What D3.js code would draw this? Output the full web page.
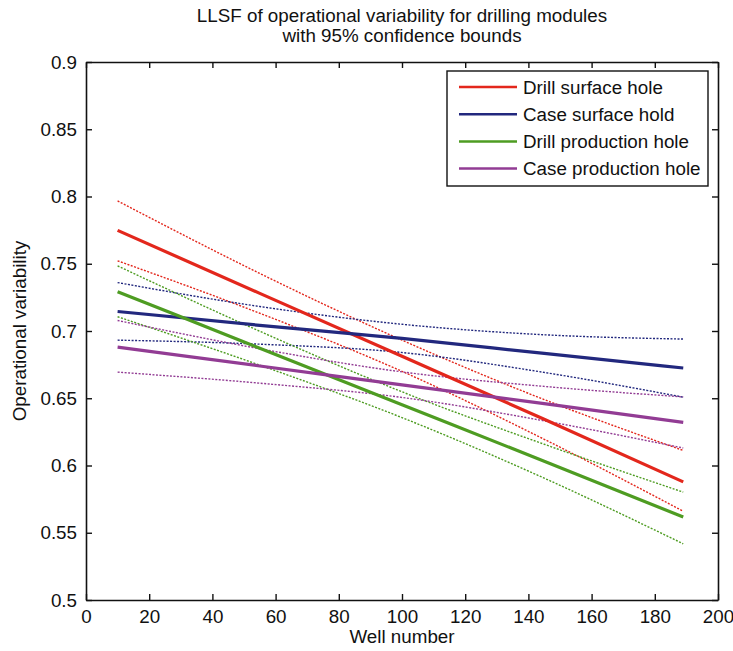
<!DOCTYPE html>
<meta charset="utf-8">
<style>
body { margin: 0; background: #fff; }
svg text { font-family: "Liberation Sans", Arial, sans-serif; fill: #111; }
.axis path, .axis line { stroke: #111; }
</style>
<svg width="733" height="651"></svg>
<script src="https://d3js.org/d3.v7.min.js"></script>
<script>
var wells = [10, 55, 100, 145, 189];

var drillSurface      = [0.7748, 0.7280, 0.6812, 0.6344, 0.5878],
    drillSurfaceUpper = [0.7967, 0.7428, 0.6932, 0.6490, 0.6112],
    drillSurfaceLower = [0.7522, 0.7132, 0.6700, 0.6195, 0.5660];

var caseSurface      = [0.7145, 0.7042, 0.6945, 0.6833, 0.6725],
    caseSurfaceUpper = [0.7360, 0.7182, 0.7050, 0.6972, 0.6940],
    caseSurfaceLower = [0.6932, 0.6902, 0.6840, 0.6692, 0.6508];

var drillProd      = [0.7292, 0.6872, 0.6452, 0.6032, 0.5617],
    drillProdUpper = [0.7484, 0.6998, 0.6548, 0.6158, 0.5802],
    drillProdLower = [0.7106, 0.6746, 0.6356, 0.5906, 0.5418];

var caseProd      = [0.6880, 0.6740, 0.6600, 0.6460, 0.6320],
    caseProdUpper = [0.7078, 0.6868, 0.6696, 0.6588, 0.6510],
    caseProdLower = [0.6694, 0.6612, 0.6506, 0.6332, 0.6130];

var legendLabels = ["Drill surface hole", "Case surface hold", "Drill production hole", "Case production hole"];
var colors = ["#e3271c", "#22287e", "#4e9c22", "#923c94"];

var xTicks = d3.range(0, 201, 20),
    yTicks = d3.range(0.5, 0.901, 0.05);

var series = [
  {fit: drillSurface, upper: drillSurfaceUpper, lower: drillSurfaceLower},
  {fit: caseSurface, upper: caseSurfaceUpper, lower: caseSurfaceLower},
  {fit: drillProd, upper: drillProdUpper, lower: drillProdLower},
  {fit: caseProd, upper: caseProdUpper, lower: caseProdLower}
];

var fontSize = "18.8px";

var svg = d3.select("svg"),
    margin = {top: 62, right: 15, bottom: 51, left: 86},
    width = +svg.attr("width") - margin.left - margin.right,
    height = +svg.attr("height") - margin.top - margin.bottom;

var x = d3.scaleLinear().domain([0, 200]).range([0, width]),
    y = d3.scaleLinear().domain([0.5, 0.9]).range([height, 0]);

var g = svg.append("g")
    .attr("transform", "translate(" + margin.left + "," + margin.top + ")");

// title
svg.append("text")
    .attr("x", margin.left + width / 2)
    .attr("y", 21.5)
    .attr("text-anchor", "middle")
    .style("font-size", fontSize)
    .text("LLSF of operational variability for drilling modules");
svg.append("text")
    .attr("x", margin.left + width / 2)
    .attr("y", 42)
    .attr("text-anchor", "middle")
    .style("font-size", fontSize)
    .text("with 95% confidence bounds");

// axes, matlab style: ticks inside, mirrored on top and right
g.append("g")
    .attr("class", "axis")
    .attr("transform", "translate(0," + height + ")")
    .call(d3.axisBottom(x).tickValues(xTicks).tickSize(-6).tickPadding(10).tickSizeOuter(0))
    .selectAll("text").style("font-size", fontSize);

g.append("g")
    .attr("class", "axis")
    .call(d3.axisLeft(y).tickValues(yTicks).tickSize(-6).tickPadding(9).tickSizeOuter(0)
      .tickFormat(function(d) { return d3.format(".2~f")(d); }))
    .selectAll("text").style("font-size", fontSize);

g.append("g")
    .attr("class", "axis")
    .call(d3.axisTop(x).tickValues(xTicks).tickSize(-6).tickSizeOuter(0).tickFormat(""));

g.append("g")
    .attr("class", "axis")
    .attr("transform", "translate(" + width + ",0)")
    .call(d3.axisRight(y).tickValues(yTicks).tickSize(-6).tickSizeOuter(0).tickFormat(""));

g.selectAll(".axis path").attr("stroke-width", 1.6);
g.selectAll(".axis line").attr("stroke-width", 1.4);

var line = function(vals) {
  return d3.line()
      .curve(d3.curveMonotoneX)
      .x(function(d, i) { return x(wells[i]); })
      .y(function(d) { return y(d); })(vals);
};

// confidence bounds
series.forEach(function(s, i) {
  [s.upper, s.lower].forEach(function(b) {
    g.append("path")
        .attr("d", line(b))
        .attr("fill", "none")
        .attr("stroke", colors[i])
        .attr("stroke-width", 1.4)
        .attr("stroke-dasharray", "2,1.5");
  });
});

// fitted lines
series.forEach(function(s, i) {
  g.append("path")
      .attr("d", line(s.fit))
      .attr("fill", "none")
      .attr("stroke", colors[i])
      .attr("stroke-width", 3.2);
});

// legend
var legend = svg.append("g").attr("transform", "translate(447,71)");
legend.append("rect")
    .attr("width", 261)
    .attr("height", 115)
    .attr("fill", "#fff")
    .attr("stroke", "#111")
    .attr("stroke-width", 1.4);

legendLabels.forEach(function(name, i) {
  var ly = 16 + i * 27.2;
  legend.append("line")
      .attr("x1", 12).attr("x2", 70)
      .attr("y1", ly).attr("y2", ly)
      .attr("stroke", colors[i])
      .attr("stroke-width", 2.5);
  legend.append("text")
      .attr("x", 76)
      .attr("y", ly + 6.5)
      .style("font-size", fontSize)
      .text(name);
});

// axis labels
svg.append("text")
    .attr("x", margin.left + width / 2)
    .attr("y", 643)
    .attr("text-anchor", "middle")
    .style("font-size", fontSize)
    .text("Well number");

svg.append("text")
    .attr("transform", "translate(26," + (margin.top + height / 2) + ") rotate(-90)")
    .attr("text-anchor", "middle")
    .style("font-size", fontSize)
    .text("Operational variability");
</script>
